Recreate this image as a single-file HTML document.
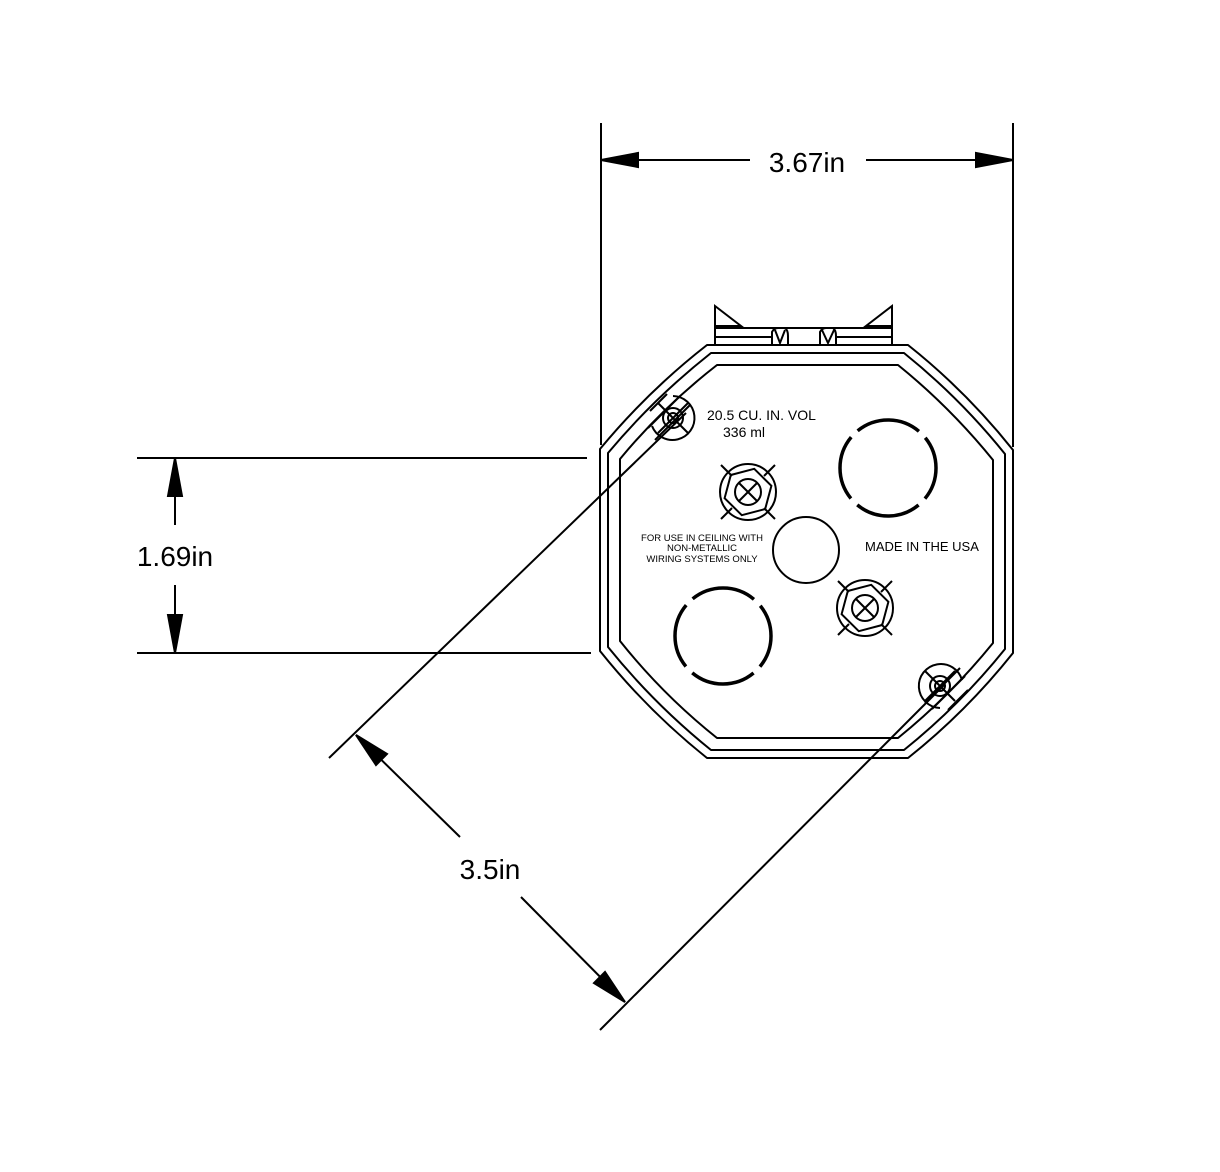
<!DOCTYPE html>
<html><head><style>body{margin:0;background:#fff}svg{display:block}</style></head><body>
<svg width="1220" height="1172" viewBox="0 0 1220 1172" xmlns="http://www.w3.org/2000/svg" font-family="Liberation Sans, sans-serif" fill="none" stroke="#000" stroke-width="2">
<!-- 3.67in dimension -->
<line x1="601" y1="123" x2="601" y2="445"/>
<line x1="1013" y1="123" x2="1013" y2="447"/>
<line x1="601" y1="160" x2="750" y2="160"/>
<line x1="866" y1="160" x2="1013" y2="160"/>
<polygon points="601,160 638,153 638,167" fill="#000"/>
<polygon points="1013,160 976,153 976,167" fill="#000"/>
<text x="807" y="172" font-size="28" text-anchor="middle" fill="#000" stroke="none">3.67in</text>
<!-- 1.69in -->
<line x1="137" y1="458" x2="587" y2="458"/>
<line x1="137" y1="653" x2="591" y2="653"/>
<line x1="175" y1="458" x2="175" y2="525"/>
<line x1="175" y1="585" x2="175" y2="653"/>
<polygon points="175,458 168,496 182,496" fill="#000"/>
<polygon points="175,653 168,615 182,615" fill="#000"/>
<text x="175" y="566" font-size="28" text-anchor="middle" fill="#000" stroke="none">1.69in</text>
<!-- 3.5in -->
<line x1="329" y1="758" x2="686" y2="413"/>
<line x1="600" y1="1030" x2="945" y2="684"/>
<line x1="356" y1="735" x2="460" y2="837"/>
<line x1="521" y1="897" x2="625" y2="1002"/>
<polygon points="356,735 387,754 376,765" fill="#000"/>
<polygon points="625,1002 594,983 605,972" fill="#000"/>
<text x="490" y="879" font-size="28" text-anchor="middle" fill="#000" stroke="none">3.5in</text>
<!-- box outlines -->
<path stroke-linejoin="round" d="M707,345 L908,345 Q966,391 1013,450 L1013,653 Q966,712 908,758 L707,758 Q648,711 600,651 L600,449 Q648,391 707,345 Z"/>
<path stroke-linejoin="round" d="M711,353 L904,353 Q960,398 1005,454 L1005,649 Q960,705 904,750 L711,750 Q654,704 608,647 L608,453 Q654,398 711,353 Z"/>
<path stroke-linejoin="round" d="M717,365 L898,365 Q950,407 993,460 L993,643 Q950,696 898,738 L717,738 Q663,695 620,641 L620,459 Q663,407 717,365 Z"/>
<!-- top tab -->
<polyline points="715,345 715,306 741,326 715,326"/>
<polyline points="892,345 892,306 866,326 892,326"/>
<line x1="715" y1="328" x2="892" y2="328"/>
<line x1="715" y1="337" x2="771" y2="337"/>
<line x1="836" y1="337" x2="892" y2="337"/>
<path d="M772,345 L772,332 Q774,328 778,328 M785,328 Q788,330 788,336 L788,345"/>
<path d="M775,330 L780,343 L785,330"/>
<path d="M820,345 L820,332 Q822,328 826,328 M833,328 Q836,330 836,336 L836,345"/>
<path d="M822,330 L828,343 L834,330"/>
<!-- screw top left -->
<path d="M673,396 A22,22 0 1 1 652,426"/>
<circle cx="673" cy="418" r="10"/>
<circle cx="673" cy="418" r="5"/>
<line x1="658" y1="403" x2="688" y2="433"/>
<line x1="688" y1="403" x2="658" y2="433"/>
<line x1="667" y1="394" x2="650" y2="411"/>
<line x1="680" y1="396" x2="648" y2="428"/>
<line x1="690" y1="405" x2="655" y2="440"/>
<!-- screw bottom right -->
<path d="M940,708 A22,22 0 1 1 962,680"/>
<circle cx="940" cy="686" r="10"/>
<circle cx="940" cy="686" r="5"/>
<line x1="925" y1="671" x2="955" y2="701"/>
<line x1="955" y1="671" x2="925" y2="701"/>
<line x1="960" y1="668" x2="925" y2="703"/>
<line x1="965" y1="676" x2="932" y2="709"/>
<line x1="968" y1="690" x2="948" y2="710"/>
<!-- nuts -->
<g id="n1">
<circle cx="748" cy="492" r="28"/>
<polygon points="748,468 769,480 769,504 748,516 727,504 727,480" transform="rotate(15 748 492)"/>
<circle cx="748" cy="492" r="13"/>
<line x1="739" y1="483" x2="757" y2="501"/>
<line x1="757" y1="483" x2="739" y2="501"/>
<line x1="721" y1="465" x2="732" y2="476"/>
<line x1="775" y1="465" x2="764" y2="476"/>
<line x1="721" y1="519" x2="732" y2="508"/>
<line x1="775" y1="519" x2="764" y2="508"/>
</g>
<use href="#n1" transform="translate(117 116)"/>
<!-- knockouts -->
<circle cx="888" cy="468" r="48" stroke-width="3.5" stroke-dasharray="66.4 9" stroke-dashoffset="33.2"/>
<circle cx="723" cy="636" r="48" stroke-width="3.5" stroke-dasharray="66.4 9" stroke-dashoffset="33.2"/>
<circle cx="806" cy="550" r="33"/>
<!-- text -->
<g fill="#000" stroke="none">
<text x="707" y="420" font-size="14">20.5 CU. IN. VOL</text>
<text x="723" y="437" font-size="14">336 ml</text>
<text x="702" y="541" font-size="9.5" text-anchor="middle">FOR USE IN CEILING WITH</text>
<text x="702" y="551" font-size="9.5" text-anchor="middle">NON-METALLIC</text>
<text x="702" y="562" font-size="9.5" text-anchor="middle">WIRING SYSTEMS ONLY</text>
<text x="865" y="551" font-size="13">MADE IN THE USA</text>
</g>
</svg>
</body></html>
